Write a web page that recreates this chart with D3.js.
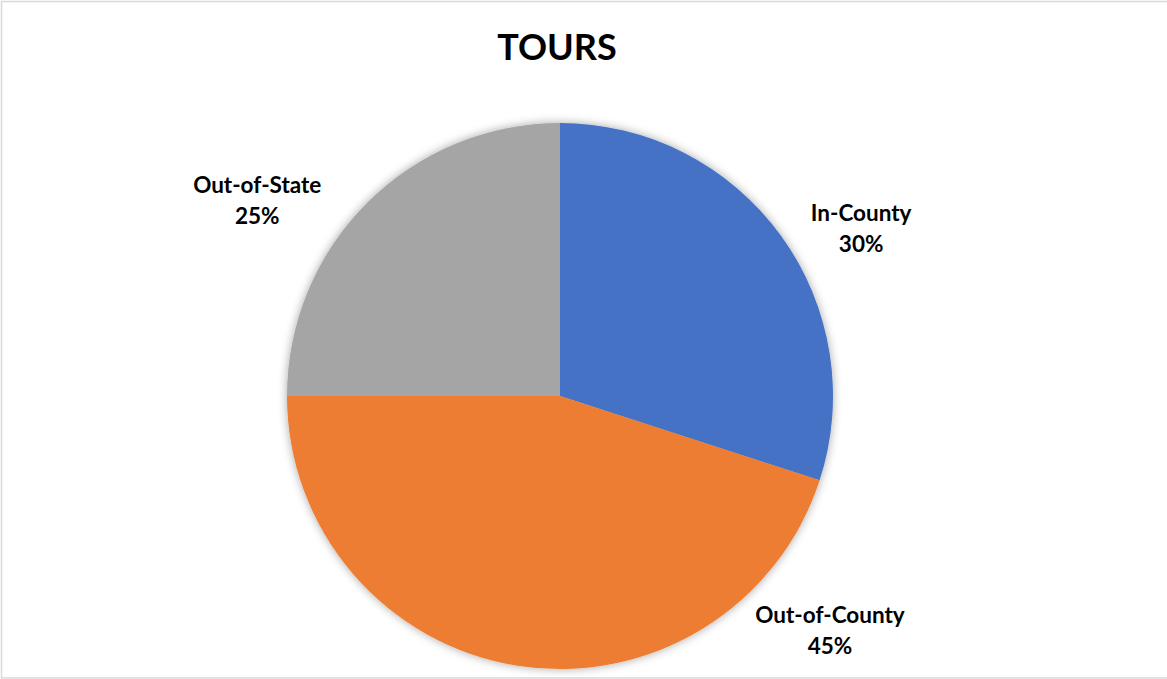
<!DOCTYPE html>
<html>
<head>
<meta charset="utf-8">
<script src="https://cdn.jsdelivr.net/npm/d3@7"></script>
<style>
	html, body { margin: 0; padding: 0; background: #fff; overflow: hidden; }
	svg { display: block; }
</style>
</head>
<body>
<svg id="chart"></svg>
<script>
const categories = ['In-County', 'Out-of-County', 'Out-of-State'];
const values = [30, 45, 25];
const colors = ['#4472C4', '#ED7D31', '#A5A5A5'];
const title = 'TOURS';

const config = {
	width: 1167,
	height: 679,
	cx: 560,
	cy: 396,
	radius: 273,
	font: 'Lato, "Open Sans", sans-serif',
	// label anchors relative to the pie centre, as fractions of the radius
	labelOffsets: [[1.103, -0.642], [0.989, 0.83], [-1.109, -0.742]]
};

const svg = d3.select('#chart')
	.attr('width', config.width)
	.attr('height', config.height);

svg.append('rect')
	.attr('x', 1.5)
	.attr('y', 1.5)
	.attr('width', config.width + 10)
	.attr('height', config.height - 2.5)
	.attr('fill', '#fff')
	.attr('stroke', '#d9d9d9')
	.attr('stroke-width', 1.5);

const defs = svg.append('defs');
const shadow = defs.append('filter')
	.attr('id', 'shadow')
	.attr('x', '-10%').attr('y', '-10%')
	.attr('width', '120%').attr('height', '120%');
shadow.append('feDropShadow')
	.attr('dx', 0)
	.attr('dy', 0)
	.attr('stdDeviation', 5)
	.attr('flood-color', '#000')
	.attr('flood-opacity', 0.35);

svg.append('text')
	.attr('x', 557)
	.attr('y', 60)
	.attr('text-anchor', 'middle')
	.style('font-family', config.font)
	.style('font-weight', 'bold')
	.style('font-size', '36px')
	.style('fill', '#000')
	.text(title);

const data = categories.map((c, i) => ({ name: c, value: values[i], color: colors[i] }));
const total = d3.sum(values);

const pie = d3.pie().sort(null).value(d => d.value);
const arc = d3.arc().innerRadius(0).outerRadius(config.radius);

const g = svg.append('g')
	.attr('transform', `translate(${config.cx},${config.cy})`);

g.append('g')
	.attr('filter', 'url(#shadow)')
	.selectAll('path')
	.data(pie(data))
	.enter()
	.append('path')
	.attr('d', arc)
	.attr('fill', d => d.data.color);

const labels = g.append('g')
	.selectAll('text')
	.data(pie(data))
	.enter()
	.append('text')
	.attr('text-anchor', 'middle')
	.style('font-family', config.font)
	.style('font-weight', 'bold')
	.style('font-size', '22.5px')
	.style('fill', '#000')
	.attr('transform', (d, i) => {
		const [fx, fy] = config.labelOffsets[i];
		return `translate(${fx * config.radius},${fy * config.radius})`;
	});

labels.append('tspan')
	.attr('x', 0)
	.attr('dy', 0)
	.text(d => d.data.name);

labels.append('tspan')
	.attr('x', 0)
	.attr('dy', 31)
	.text(d => Math.round(d.data.value / total * 100) + '%');
</script>
</body>
</html>
